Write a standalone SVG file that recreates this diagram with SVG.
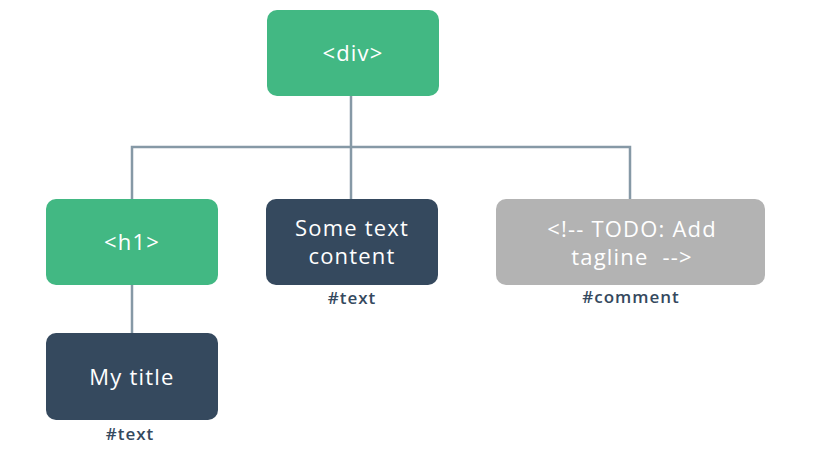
<svg xmlns="http://www.w3.org/2000/svg" width="840" height="449" viewBox="0 0 840 449">
<style>
.box{stroke:none}
.g{fill:#42b883}
.d{fill:#35495e}
.c{fill:#b3b3b3}
.t{font-family:"Open Sans","Liberation Sans",sans-serif;font-size:22px;font-weight:500;letter-spacing:1.2px;fill:#ffffff;text-anchor:middle}
.l{font-family:"Open Sans","Liberation Sans",sans-serif;font-size:17px;fill:#35495e;text-anchor:middle;font-weight:600;letter-spacing:1px}
.ln{stroke:#8699a6;stroke-width:2.5;fill:none}
</style>
<rect width="840" height="449" fill="#ffffff"/>
<g id="connectors">
<path class="ln" d="M351 96 V147 M132 199 V147 H630 V199 M351 147 V199 M132 285 V333"/>
</g>
<g id="div">
<rect class="box g" x="267" y="10" width="172" height="86" rx="10"/>
<text class="t" x="353" y="61">&lt;div&gt;</text>
</g>
<g id="h1">
<rect class="box g" x="46" y="199" width="172" height="86" rx="10"/>
<text class="t" x="132" y="250">&lt;h1&gt;</text>
</g>
<g id="text1">
<rect class="box d" x="266" y="199" width="172" height="86" rx="10"/>
<text class="t" x="352" y="236">Some text</text>
<text class="t" x="352" y="264">content</text>
<text class="l" x="352" y="304">#text</text>
</g>
<g id="comment">
<rect class="box c" x="496" y="199" width="269" height="86" rx="10"/>
<text class="t" x="632" y="237">&lt;!-- TODO: Add</text>
<text class="t" x="632" y="265" xml:space="preserve" style="white-space:pre">tagline  --&gt;</text>
<text class="l" x="631" y="303">#comment</text>
</g>
<g id="text2">
<rect class="box d" x="46" y="333" width="172" height="87" rx="10"/>
<text class="t" x="132" y="385">My title</text>
<text class="l" x="130" y="440">#text</text>
</g>
</svg>
